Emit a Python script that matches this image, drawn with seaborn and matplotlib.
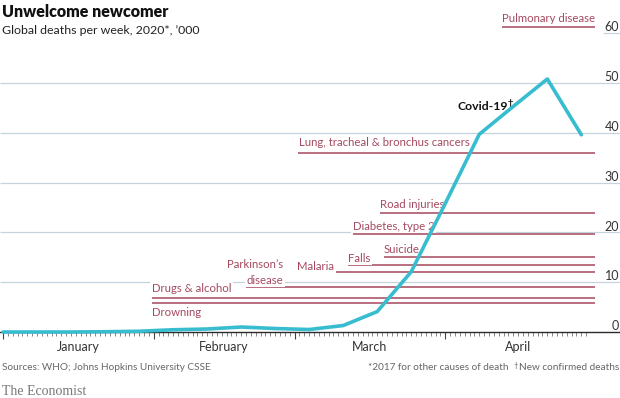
import matplotlib
matplotlib.use("Agg")
import matplotlib.pyplot as plt
import matplotlib.transforms as mtransforms
import seaborn as sns
import pandas as pd
import numpy as np

# ---------------- data ----------------
week_ending = ["2020-01-01", "2020-01-08", "2020-01-15", "2020-01-22", "2020-01-29",
               "2020-02-05", "2020-02-12", "2020-02-19", "2020-02-26", "2020-03-04",
               "2020-03-11", "2020-03-18", "2020-03-25", "2020-04-01", "2020-04-08",
               "2020-04-15", "2020-04-22", "2020-04-29"]
covid_deaths_k = [0.0, 0.0, 0.0, 0.05, 0.15, 0.45, 0.6, 1.0, 0.7, 0.5,
                  1.3, 4.1, 12.1, 25.8, 39.7, 45.3, 50.8, 39.6]

causes = ["Pulmonary disease", "Lung, tracheal & bronchus cancers", "Road injuries",
          "Diabetes, type 2", "Suicide", "Falls", "Malaria", "Parkinson\u2019s disease",
          "Drugs & alcohol", "Drowning"]
cause_deaths_k = [61.2, 36.0, 23.8, 19.7, 15.1, 13.45, 12.0, 9.0, 6.8, 5.8]

months = ["January", "February", "March", "April"]
y_ticks = [0, 10, 20, 30, 40, 50, 60]

title = "Unwelcome newcomer"
subtitle = "Global deaths per week, 2020*, \u2019000"
source = "Sources: WHO; Johns Hopkins University CSSE"
note1 = "*2017 for other causes of death"
note2 = "New confirmed deaths"

# ---------------- layout ----------------
W, H = 620, 398
X0_PX, PX_PER_DAY = 3.0, 4.86
Y0_PX, PX_PER_K = 332.0, 4.98

CRIMSON_LINE = "#a5475c"
CRIMSON_TEXT = "#a54a60"
GRID = "#c4d3de"
CYAN = "#37bdcf"
DARK = "#2b2b2b"
GREY = "#666666"

def day_of(px):
    return (px - X0_PX) / PX_PER_DAY

def fx(px):
    return px / W

def fy(py):
    return 1 - py / H

sns.set_theme(style="white")
plt.rcParams["font.family"] = ["Lato", "DejaVu Sans"]

fig = plt.figure(figsize=(W / 100, H / 100), dpi=100)
ax = fig.add_axes([0, (H - Y0_PX) / H, 1, Y0_PX / H])
xlim = (day_of(0), day_of(W))
ax.set_xlim(*xlim)
ax.set_ylim(0, Y0_PX / PX_PER_K)

start = pd.Timestamp("2020-01-01")
week_day = (pd.to_datetime(week_ending) - start).days.to_numpy()
df = pd.DataFrame({"day": week_day, "deaths": covid_deaths_k})

# gridlines
ax.hlines([v for v in y_ticks if 0 < v < 60], xlim[0], xlim[1], color=GRID, lw=0.9, zorder=0)
ax.hlines([60], day_of(603), xlim[1], color=GRID, lw=0.9, zorder=0)

# cause-of-death reference lines
line_start_px = [502, 298, 380, 353, 384, 348, 297, 246, 152, 152]
line_end_day = day_of(595)
ax.hlines(cause_deaths_k, [day_of(p) for p in line_start_px], line_end_day,
          color=CRIMSON_LINE, lw=1.1, zorder=2)

# covid line
sns.lineplot(data=df, x="day", y="deaths", ax=ax, color=CYAN, lw=2.6, zorder=6,
             clip_on=False, legend=False)

# cause labels (figure pixel positions)
label_fs = 8.2
bbox = dict(facecolor="white", edgecolor="none", pad=1.2)
label_specs = [
    # text, x_px, baseline_px, ha
    ("Pulmonary disease", 595, 22.0, "right"),
    ("Lung, tracheal & bronchus cancers", 299, 146.5, "left"),
    ("Road injuries", 380, 208.5, "left"),
    ("Diabetes, type 2", 353, 229.5, "left"),
    ("Suicide", 384, 252.5, "left"),
    ("Falls", 348, 261.5, "left"),
    ("Malaria", 297, 269.5, "left"),
    ("Parkinson\u2019s", 283, 268.5, "right"),
    ("disease", 283, 283.5, "right"),
    ("Drugs & alcohol", 152, 292.0, "left"),
    ("Drowning", 152, 316.5, "left"),
]
for txt, xp, yp, ha in label_specs:
    ax.text(fx(xp), fy(yp), txt, transform=fig.transFigure, ha=ha, va="baseline",
            fontsize=label_fs, color=CRIMSON_TEXT, bbox=bbox, zorder=3)

# covid label
cv = ax.text(fx(457), fy(110), "Covid-19", transform=fig.transFigure, ha="left",
             va="baseline", fontsize=8.8, fontweight="bold", color="#111111", zorder=7)
ax.annotate("\u2020", xy=(1, 1), xycoords=cv, xytext=(0.4, 1.2), textcoords="offset points",
            ha="left", va="top", fontsize=6.5, fontweight="bold", color="#111111")

# axes styling
for s in ["top", "left", "right"]:
    ax.spines[s].set_visible(False)
ax.spines["bottom"].set_color(DARK)
ax.spines["bottom"].set_linewidth(1.0)
ax.set_xlabel("")
ax.set_ylabel("")
ax.set_yticks([])

month_starts = (pd.date_range("2020-01-01", "2020-05-01", freq="MS") - start).days.to_numpy()
ax.set_xticks(month_starts[:-1])
ax.set_xticks(np.arange(0, month_starts[-1]), minor=True)
ax.set_xticklabels([])
ax.tick_params(axis="x", which="major", length=5, width=0.8, color="#444444", direction="out")
ax.tick_params(axis="x", which="minor", length=3, width=0.5, color="#555555", direction="out")
ax.xaxis.set_ticks_position("bottom")

centers = (month_starts[:-1] + month_starts[1:]) / 2
month_tr = mtransforms.blended_transform_factory(ax.transData, fig.transFigure)
for m, c in zip(months, centers):
    ax.text(c, fy(351), m, transform=month_tr, ha="center", va="baseline",
            fontsize=9, color="#333333")

# y tick labels on the right, above gridlines
for v in y_ticks:
    fig.text(fx(619), fy(Y0_PX - v * PX_PER_K - 1.8), str(v), ha="right", va="baseline",
             fontsize=9, color="#333333")

# title & subtitle
fig.text(fx(2), fy(16.7), title, ha="left", va="baseline", fontsize=11.5,
         fontweight="heavy", color="#111111")
fig.text(fx(2), fy(33.8), subtitle, ha="left", va="baseline", fontsize=8.9, color="#222222")

# footer
fig.text(fx(2), fy(370), source, ha="left", va="baseline", fontsize=7.2, color=GREY)
fig.text(fx(508), fy(370), note1, ha="right", va="baseline", fontsize=7.2, color=GREY)
n2 = fig.text(fx(619), fy(370), note2, ha="right", va="baseline", fontsize=7.2, color=GREY)
fig.text(fx(2), fy(395), "The Economist", ha="left", va="baseline", fontsize=10,
         color="#777777", family=["Liberation Serif", "DejaVu Serif"])
fig.add_artist(plt.Annotation("\u2020", xy=(0, 1), xycoords=n2, xytext=(-0.5, 0.8),
                              textcoords="offset points", ha="right", va="top",
                              fontsize=5.5, color=GREY))

fig.savefig("out.png", dpi=100)
